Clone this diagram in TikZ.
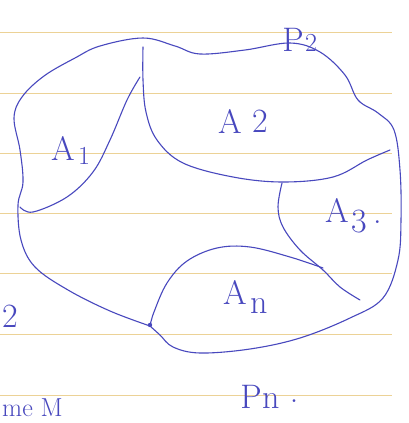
\documentclass[tikz,border=0pt]{standalone}
\usepackage{fontspec}
\usepackage{tikz}
\usetikzlibrary{positioning}

\definecolor{ink}{RGB}{72,72,190}
\definecolor{ruling}{RGB}{236,210,150}

\tikzset{
    pen/.style={ink, line width=1.1pt, line cap=round, line join=round},
    rule/.style={ruling, line width=0.9pt},
    hand/.style={ink, inner sep=0pt, font=\fontsize{34}{38}\selectfont},
    handsub/.style={ink, inner sep=0pt, font=\fontsize{26}{30}\selectfont}
}

\begin{document}
\begin{tikzpicture}[x=1pt, y=-1pt]
        \useasboundingbox (0,0) rectangle (408,423);
        \fill[white] (0,0) rectangle (408,423);
        % ruled paper
        \foreach \y in {32,93,153,213,273,334,395}
            \draw[rule] (0,\y) -- (392,\y);
        % outer boundary
        \draw[pen] plot[smooth, tension=0.6] coordinates {
            (150,326) (110,311) (68,290) (35,267) (21,240) (18,205) (23,182)
            (20,150) (14,118) (22,97) (44,76) (75,58) (100,46) (143,38)
            (175,46) (200,54) (245,50) (290,43) (320,52) (345,75) (358,100)
            (378,113) (394,130) (400,170) (401,220) (398,260) (383,298)
            (350,318) (300,338) (250,349) (200,353) (173,347) (160,335) (150,326)};
        % inner curves
        \draw[pen] plot[smooth, tension=0.6] coordinates {
            (143,47) (143,80) (146,112) (157,140) (183,163) (233,177)
            (283,182) (333,177) (367,160) (390,150)};
        \draw[pen] plot[smooth, tension=0.6] coordinates {
            (140,77) (127,100) (110,140) (93,172) (67,197) (33,212) (20,207)};
        \draw[pen] plot[smooth, tension=0.6] coordinates {
            (282,183) (278,207) (283,227) (300,250) (323,270) (340,287) (360,300)};
        \draw[pen] plot[smooth, tension=0.6] coordinates {
            (150,326) (154,312) (167,283) (187,261) (217,248) (250,247)
            (290,257) (323,268)};
        \fill[ink] (150,325) circle (2.2pt);
        % labels
        \node[hand] (aone) at (63,148) {A};
        \node[handsub, right=3pt of aone.south east, anchor=south west, yshift=-4pt] (aonei) {1};
        \node[hand] (atwo) at (230,121) {A};
        \node[hand, right=10pt of atwo] (atwoii) {2};
        \node[hand] (athree) at (337,210) {A};
        \node[hand, below right=-12pt and 2pt of athree] (athreeiii) {3};
        \node[hand, right=6pt of athreeiii] (athreedot) {.};
        \node[hand] (an) at (235,292) {A};
        \node[hand, right=3pt of an.south east, anchor=south west, yshift=-9pt] (ann) {n};
        \node[hand] (ptwo) at (293,40) {P};
        \node[handsub, right=1pt of ptwo.south east, anchor=south west] (ptwoii) {2};
        \node[hand] (pn) at (251,397) {P};
        \node[hand, right=0pt of pn.south east, anchor=south west] (pnn) {n};
        \node[hand, right=10pt of pnn] (pndot) {.};
        \node[hand] (edge) at (10,316) {2};
        \node[handsub, anchor=south west] (cut) at (2,417) {me M};
    \end{tikzpicture}
\end{document}
